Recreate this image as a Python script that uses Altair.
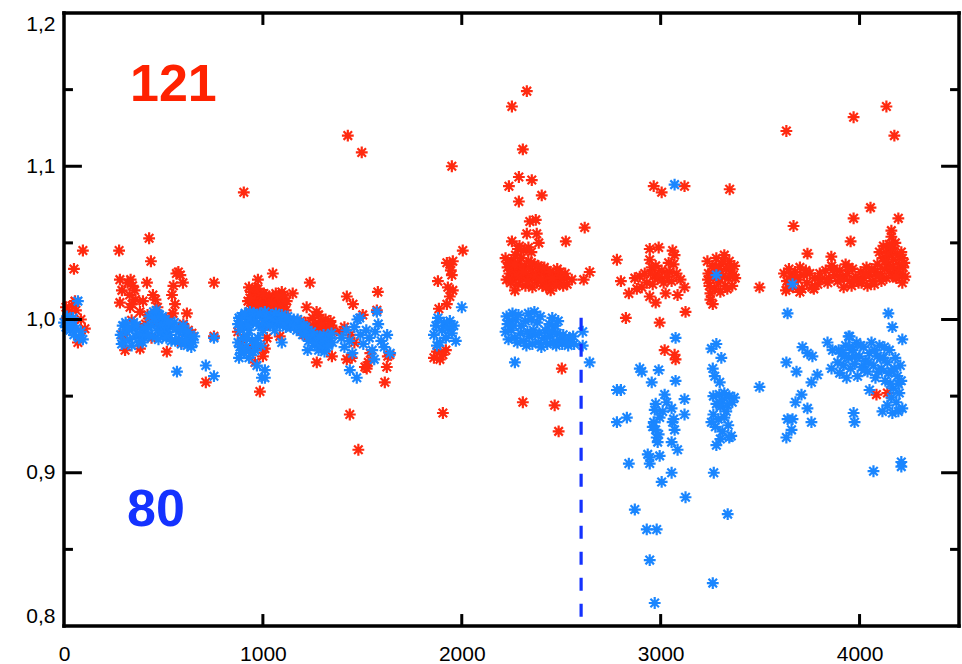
import altair as alt
import pandas as pd

# ---------------- data ----------------
red_seg_a = [(10,1.008),(25,1.005),(40,1.009),(30,1.002),(15,1.001),(50,1.033),(95,1.045),(55,1.012),
             (70,0.985),(105,0.994),(45,0.998),(85,1.0),(60,1.006)]
red_seg_b = [(277,1.045),(428,1.053),(437,1.038),(565,1.030),(575,1.031),(585,1.029),(598,1.024),(754,1.024),
             (281,1.026),(291,1.019),(281,1.011),(320,1.024),(335,1.026),(345,1.022),(355,1.019),(330,1.016),
             (360,1.013),(342,1.010),(417,1.024),(447,1.016),(460,1.013),(397,1.012),(332,1.008),(382,1.005),
             (420,1.003),(470,1.008),(543,1.016),(558,1.010),(550,1.022),(618,1.004),(643,0.991),(548,1.004),
             (530,1.001),(340,0.9995),(482,0.996),(382,0.995),(500,0.998),(455,1.0),(410,0.997),(600,0.997),
             (625,0.993),(307,0.980),(382,0.981),(517,0.979),(754,0.989),(713,0.959),(295,0.990),(440,0.988),
             (590,0.985)]
red_seg_c = [(904,1.083),(1427,1.120),(1497,1.109),(1050,1.030),(975,1.026),(1236,1.024),(930,1.021),(1150,1.017),
             (1220,1.008),(1422,1.015),(1453,1.010),(1578,1.018),(1502,1.003),(1573,1.006),(1422,0.974),(1513,0.969),
             (1623,0.969),(1613,0.959),(1628,0.976),(1437,0.938),(1480,0.915),(985,0.953),(960,0.972),(1000,0.976),
             (1010,0.981),(1020,0.988),(874,0.992),(1085,0.989),(1271,0.972),(1347,0.976),(1638,0.977),(1447,0.975),
             (1522,0.968),(1390,0.992),(1410,0.995),(1440,0.990),(1460,0.985),(1530,0.972),(1540,0.978),
             (925,1.012),(940,1.018),(955,1.015),(965,1.020),(980,1.016),(995,1.012),(945,1.009),(970,1.008),
             (990,1.005),(1010,1.010),(1030,1.013),(1050,1.015),(1070,1.011),(1090,1.014),(1110,1.010),(1040,1.007),
             (1060,1.006),(1080,1.008),(1100,1.006),(1120,1.012),(1015,1.016),(1065,1.017),(1095,1.018),(930,1.005),
             (960,1.012),(935,1.014),(950,1.005),(975,1.020),(985,1.010),(1005,1.017),(1020,1.008),(1045,1.011),
             (1075,1.015),(1105,1.016),(1115,1.006),
             (1175,0.995),(1200,0.992),(1215,0.998),(1235,0.995),(1250,1.001),(1265,0.997),(1280,1.003),
             (1290,0.999),(1300,0.994),(1315,1.000),(1325,0.996),(1340,0.999),(1350,0.993),(1230,0.990),(1260,0.991),
             (1285,0.992),(1310,0.989),(1335,0.990),(1190,0.999),(1270,1.005),(890,0.985),(935,0.980),(1010,0.996),
             (1195,0.993),(1210,0.990),(1245,0.994),(1275,0.994),(1295,0.996),(1320,0.993),(1345,0.996)]
red_seg_d = [(1950,1.100),(2005,1.045),(1925,1.037),(1940,1.036),(1955,1.038),(1880,1.025),(1950,1.029),(1930,1.021),
             (1955,1.019),(1925,1.010),(1885,1.007),(1860,0.975),(1875,0.979),(1890,0.974),(1905,0.977),(1920,0.980),
             (1905,0.939),(1945,1.032),(1940,1.015)]
red_seg_e = [(2327,1.149),(2252,1.139),(2307,1.111),(2287,1.093),(2352,1.091),(2237,1.087),(2402,1.081),(2287,1.077),
             (2342,1.064),(2372,1.065),(2327,1.056),(2377,1.056),(2252,1.051),(2387,1.050),(2282,1.046),(2523,1.051),
             (2618,1.060),(2643,1.031),(2613,1.026),(2553,1.026),(2447,1.019),(2267,1.019),(2503,0.968),(2307,0.946),
             (2467,0.944),(2487,0.927),
             (2220,1.040),(2230,1.034),(2240,1.030),(2225,1.026),(2250,1.038),(2260,1.032),(2255,1.026),(2270,1.042),
             (2280,1.036),(2275,1.029),(2285,1.023),(2295,1.033),(2300,1.040),(2305,1.027),(2315,1.035),(2320,1.022),
             (2325,1.030),(2335,1.038),(2340,1.026),(2345,1.033),(2355,1.021),(2360,1.029),(2365,1.036),(2375,1.024),
             (2380,1.031),(2390,1.027),(2395,1.034),(2405,1.022),(2410,1.030),(2420,1.025),(2430,1.032),(2440,1.027),
             (2450,1.023),(2460,1.030),(2470,1.026),(2480,1.033),(2490,1.024),(2500,1.029),(2515,1.027),(2530,1.023),
             (2310,1.045),(2350,1.044),(2290,1.048),(2335,1.047),
             (2235,1.037),(2245,1.024),(2265,1.036),(2290,1.029),(2310,1.031),(2330,1.025),(2350,1.037),(2370,1.028),
             (2385,1.035),(2400,1.026),(2415,1.034),(2425,1.021),(2445,1.031),(2455,1.027),(2475,1.022),(2495,1.031),
             (2510,1.022),(2520,1.030)]
red_seg_f = [(2965,1.087),(3005,1.083),(3120,1.087),(3347,1.085),(2780,1.039),(2800,1.025),(2840,1.017),(2870,1.027),
             (2895,1.028),(2905,1.021),(2945,1.046),(2990,1.047),(2945,1.039),(2955,1.034),(2970,1.029),(2985,1.027),
             (2960,1.023),(2945,1.015),(2975,1.011),(3025,1.017),(3045,1.031),(3070,1.042),(3065,1.036),(3080,1.030),
             (3055,1.025),(3085,1.016),(3120,1.021),(3005,1.032),(2930,1.024),(2995,1.028),(2825,1.001),(2995,0.998),
             (3125,1.005),(3020,0.980),(3070,0.977),(3075,0.974),(3497,1.021),(2950,1.030),(2975,1.035),(3015,1.024),
             (3040,1.037),(3060,1.045),(3030,1.028),(2920,1.030),(2880,1.020),(3100,1.026),
             (3235,1.038),(3240,1.030),(3245,1.022),(3250,1.017),(3260,1.035),(3265,1.027),(3270,1.020),(3280,1.040),
             (3285,1.032),(3290,1.024),(3300,1.018),(3305,1.036),(3310,1.028),(3320,1.042),(3325,1.022),(3330,1.033),
             (3340,1.027),(3345,1.038),(3355,1.030),(3360,1.022),(3370,1.035),(3375,1.027),(3250,1.013),(3262,1.010),
             (3238,1.026),(3255,1.030),(3275,1.034),(3295,1.030),(3315,1.038),(3335,1.020),(3350,1.034),(3365,1.029)]
red_seg_g = [(3632,1.123),(3970,1.132),(4135,1.139),(4175,1.120),(3668,1.061),(4055,1.073),(3970,1.066),(4195,1.066),
             (3955,1.051),(4160,1.058),(4160,1.054),(3738,1.043),(3858,1.041),(4215,1.024),(4085,0.951),(4140,0.952),
             (4165,1.047),(4150,1.043),
             (3620,1.030),(3635,1.025),(3645,1.033),(3655,1.028),(3665,1.021),(3675,1.031),(3690,1.026),(3700,1.034),
             (3710,1.020),(3720,1.029),(3735,1.024),(3750,1.030),(3760,1.021),(3775,1.027),(3790,1.023),(3805,1.026),
             (3630,1.019),(3700,1.018),
             (3830,1.032),(3845,1.027),(3860,1.035),(3875,1.029),(3890,1.025),(3900,1.032),(3915,1.028),(3930,1.036),
             (3940,1.030),(3950,1.025),(3965,1.033),(3980,1.028),(3995,1.024),(4005,1.031),(4020,1.027),(4035,1.034),
             (4050,1.029),(4065,1.025),(4080,1.031),(3920,1.021),(3960,1.022),(4040,1.022),
             (4090,1.036),(4100,1.044),(4105,1.030),(4115,1.040),(4120,1.048),(4125,1.033),(4135,1.027),(4140,1.043),
             (4145,1.036),(4155,1.030),(4160,1.046),(4170,1.039),(4175,1.033),(4185,1.027),(4190,1.042),(4200,1.036),
             (4205,1.030),(4215,1.040),(4220,1.034),(4230,1.028),(4110,1.025),(4180,1.050),
             (3640,1.021),(3685,1.028),(3730,1.032),(3770,1.020),(3800,1.030),(3840,1.024),(3870,1.033),(3905,1.026),
             (3945,1.034),(3975,1.026),(4010,1.024),(4030,1.030),(4060,1.033),(4075,1.023),(4095,1.028),(4130,1.038),
             (4150,1.049),(4165,1.034),(4195,1.031),(4210,1.044),(4225,1.037),(4180,1.028)]

blue_seg_a = [(0,0.998),(10,0.995),(20,1.0),(30,0.993),(40,0.996),(50,0.99),(60,0.994),(70,1.012),(75,0.988),
              (85,0.992),(95,0.987),(15,1.002),(45,1.001),(25,0.997)]
blue_seg_b = [(285,0.990),(300,0.985),(315,0.992),(330,0.987),(345,0.994),(360,0.989),(375,0.985),(390,0.992),
              (405,0.988),(420,0.995),(295,0.996),(350,0.998),(430,1.002),(440,0.996),(450,1.005),(460,0.999),
              (470,0.993),(480,1.003),(490,0.997),(500,0.990),(510,1.000),(520,0.994),(445,0.989),(475,0.987),
              (530,0.990),(545,0.995),(560,0.986),(575,0.992),(590,0.984),(605,0.990),(620,0.983),(635,0.988),
              (650,0.985),(555,0.998),(600,0.996),(568,0.966),(713,0.970),(754,0.963),(754,0.988),
              (290,0.984),(310,0.998),(325,0.994),(340,0.983),(365,0.996),(380,0.991),(395,0.985),(410,0.994),
              (425,0.990),(455,1.001),(465,1.006),(485,0.992),(495,1.002),(505,0.996),(515,0.988),(525,0.998),
              (540,0.986),(565,0.994),(580,0.987),(595,0.993),(610,0.986),(625,0.992),(640,0.982),(655,0.989)]
blue_seg_c = [(875,0.997),(890,1.002),(905,0.995),(920,1.000),(935,1.005),(950,0.998),(965,1.003),(980,0.996),
              (995,1.001),(1010,1.005),(1025,0.998),(1040,1.003),(1055,0.997),(1070,1.001),(1085,0.996),(1100,1.000),
              (1115,0.995),(1130,0.999),(885,0.993),(930,0.993),(1000,0.993),(1060,0.993),
              (880,1.001),(895,0.997),(910,1.004),(925,0.996),(940,1.001),(955,1.004),(970,0.998),(985,1.004),
              (1005,0.998),(1020,1.002),(1035,0.996),(1050,1.001),(1065,1.004),(1080,0.999),(1095,1.003),
              (1110,0.998),(1125,1.002),
              (875,0.985),(890,0.978),(900,0.988),(915,0.982),(930,0.975),(945,0.986),(960,0.980),(975,0.988),
              (990,0.983),(880,0.975),(885,0.982),(905,0.978),(920,0.988),(950,0.979),(965,0.985),
              (970,0.970),(995,0.962),(1010,0.962),(1095,0.985),(1010,0.967),
              (1140,0.995),(1155,1.000),(1170,0.993),(1185,0.998),(1200,0.990),(1215,0.995),(1230,0.986),(1245,0.992),
              (1260,0.983),(1275,0.989),(1290,0.984),(1305,0.990),(1320,0.982),(1335,0.988),(1350,0.985),(1225,0.980),
              (1280,0.980),(1310,0.979),(1145,0.998),(1160,0.996),(1175,1.000),(1190,0.994),(1205,0.996),
              (1220,0.991),(1240,0.988),(1255,0.990),(1270,0.985),(1285,0.988),(1300,0.983),(1315,0.986),
              (1330,0.983),(1345,0.991),
              (1395,0.988),(1410,0.982),(1420,0.993),(1435,0.986),(1450,0.978),(1460,0.995),(1475,1.000),(1487,1.001),
              (1490,0.990),(1505,0.984),(1520,0.993),(1535,0.988),(1550,0.980),(1565,0.992),(1573,1.005),(1580,0.997),
              (1595,0.986),(1610,0.982),(1625,0.990),(1640,0.978),(1437,0.967),(1472,0.962),(1560,0.974)]
blue_seg_d = [(2000,1.008),(1860,0.990),(1870,0.996),(1880,1.001),(1890,0.985),(1900,0.993),(1910,0.998),(1920,0.988),
              (1930,0.994),(1940,0.999),(1950,0.991),(1960,0.996),(1970,0.986),(1875,0.983)]
blue_seg_e = [(2225,1.002),(2240,0.999),(2255,1.004),(2270,1.000),(2285,1.003),(2320,0.999),(2335,1.004),(2350,1.000),
              (2365,1.005),(2380,0.998),(2395,1.002),(2440,0.997),(2455,1.001),(2470,0.996),(2485,0.999),
              (2220,0.992),(2235,0.987),(2250,0.993),(2265,0.988),(2280,0.985),(2295,0.991),(2310,0.986),(2325,0.983),
              (2340,0.989),(2355,0.984),(2370,0.990),(2385,0.985),(2400,0.982),(2415,0.988),(2430,0.984),(2445,0.989),
              (2460,0.985),(2475,0.983),(2490,0.987),(2505,0.984),(2520,0.986),(2535,0.983),(2550,0.985),(2565,0.984),
              (2230,0.997),(2260,0.996),(2300,0.996),(2330,0.992),(2360,0.993),(2390,0.991),(2420,0.993),(2450,0.992),
              (2480,0.991),(2510,0.990),(2540,0.988),(2560,0.989),
              (2267,0.972),(2608,0.992),(2608,0.983),(2643,0.972)]
blue_seg_f = [(3070,1.088),(2780,0.954),(2780,0.933),(3075,0.988),(2895,0.968),(2905,0.966),(2990,0.967),(2955,0.959),
              (3075,0.960),(2800,0.954),(2830,0.936),(2970,0.941),(3020,0.951),(3030,0.946),(3120,0.948),(3055,0.942),
              (3120,0.938),(2965,0.933),(2975,0.928),(2980,0.923),(2985,0.920),(2995,0.936),(3060,0.933),(3070,0.928),
              (3055,0.920),(3085,0.915),(2945,0.910),(2995,0.911),(2945,0.906),(2840,0.906),(3055,0.900),(3005,0.894),
              (3125,0.884),(2870,0.876),(2930,0.863),(2980,0.863),(2945,0.843),(2970,0.815),(3262,0.828),(3337,0.873),
              (3267,0.900),(3255,0.981),(3280,0.984),(3305,0.975),(3262,0.968),(3272,0.963),(3297,0.959),
              (3265,0.950),(3280,0.945),(3295,0.951),(3310,0.947),(3320,0.952),(3335,0.944),(3345,0.950),(3360,0.946),
              (3370,0.949),(3300,0.943),(3330,0.940),(3265,0.938),(3275,0.930),(3290,0.935),(3310,0.927),(3320,0.936),
              (3340,0.931),(3355,0.924),(3255,0.933),(3280,0.918),(3345,0.923),(3300,0.922),(3497,0.956),(3280,1.029),
              (2990,0.925),(2960,0.930),(3065,0.935),(2935,0.912),(3010,0.940),(2975,0.945)]
blue_seg_g = [(3663,1.023),(3638,1.004),(4145,1.004),(4165,0.995),(3632,0.972),(3683,0.966),(3713,0.982),(3738,0.978),
              (3763,0.976),(3788,0.964),(3758,0.959),(3708,0.951),(3678,0.946),(3738,0.942),(3758,0.933),(3638,0.935),
              (3663,0.935),(3658,0.928),(3632,0.923),(3839,0.985),(3864,0.980),(3859,0.968),(3950,0.989),(3970,0.939),
              (3975,0.933),(4050,0.954),(4115,0.940),(4165,0.939),(4215,0.942),(4215,0.987),(4070,0.901),(4210,0.907),
              (4210,0.904),(3945,0.989),
              (3890,0.972),(3900,0.965),(3910,0.978),(3920,0.970),(3930,0.983),(3935,0.962),(3945,0.975),(3955,0.968),
              (3965,0.980),(3975,0.971),(3985,0.985),(3990,0.963),(4000,0.976),(4010,0.969),(4020,0.982),(4030,0.973),
              (4040,0.966),(4050,0.978),(4060,0.985),(4070,0.970),(4080,0.962),(4090,0.976),(4100,0.983),(4110,0.968),
              (4120,0.975),(4130,0.960),(4140,0.972),(4150,0.980),(4160,0.966),(4170,0.955),(4180,0.975),(4190,0.963),
              (4200,0.952),(4205,0.970),(4185,0.946),(4160,0.949),(4140,0.944),(4195,0.940),
              (3895,0.980),(3925,0.976),(3950,0.982),(3980,0.976),(4005,0.983),(4025,0.967),(4045,0.972),(4075,0.980),
              (4095,0.966),(4105,0.975),(4125,0.982),(4145,0.965),(4175,0.968),(4195,0.958),(4210,0.960),(4155,0.958)]

# dashed marker line, annotations, ticks
dash_x = [2600]
dash_y = [0.806, 1.002]
label_texts = ["121", "80"]
label_x = [332, 317]
label_y = [1.1426, 0.8654]
label_colors = ["#ff2200", "#1432ff"]
x_tick_values = [0, 1000, 2000, 3000, 4000]
x_major_ticks = [1000, 2000, 3000, 4000]
y_tick_values = [0.8, 0.9, 1.0, 1.1, 1.2]
y_major_ticks = [0.9, 1.0, 1.1]
y_minor_ticks = [0.85, 0.95, 1.05, 1.15]
X0, X1, Y0, Y1 = 0, 4500, 0.8, 1.2

# ---------------- tables ----------------
red_pts = red_seg_a + red_seg_b + red_seg_c + red_seg_d + red_seg_e + red_seg_f + red_seg_g
blue_pts = blue_seg_a + blue_seg_b + blue_seg_c + blue_seg_d + blue_seg_e + blue_seg_f + blue_seg_g
red_df = pd.DataFrame(red_pts, columns=["x", "y"])
blue_df = pd.DataFrame(blue_pts, columns=["x", "y"])

W, H = 895, 613
xlen_major = 0.0078  # y-units for x ticks (about 12 px)
ylen_major = 90      # x-units (about 18 px)
ylen_minor = 45

tick_rows = []
for v in x_major_ticks:
    tick_rows.append(dict(x=v, x2=v, y=Y0, y2=Y0 + xlen_major))
    tick_rows.append(dict(x=v, x2=v, y=Y1, y2=Y1 - xlen_major))
for v in y_major_ticks:
    tick_rows.append(dict(x=X0, x2=X0 + ylen_major, y=v, y2=v))
    tick_rows.append(dict(x=X1, x2=X1 - ylen_major, y=v, y2=v))
for v in y_minor_ticks:
    tick_rows.append(dict(x=X0, x2=X0 + ylen_minor, y=v, y2=v))
    tick_rows.append(dict(x=X1, x2=X1 - ylen_minor, y=v, y2=v))
ticks_df = pd.DataFrame(tick_rows)

frame_df = pd.DataFrame({"x": [X0, X1, X0, X0], "x2": [X1, X1, X1, X0],
                         "y": [Y0, Y0, Y1, Y0], "y2": [Y0, Y1, Y1, Y1]})

dash_df = pd.DataFrame({"x": [dash_x[0]], "y": [dash_y[0]], "y2": [dash_y[1]]})
text_df = pd.DataFrame({"t": label_texts, "x": label_x, "y": label_y, "c": label_colors})

ASTERISK = "M-1,0L1,0M0,-1L0,1M-0.72,-0.72L0.72,0.72M-0.72,0.72L0.72,-0.72"

xs = alt.Scale(domain=[X0, X1], nice=False, zero=False)
ys = alt.Scale(domain=[Y0, Y1], nice=False, zero=False)
x_axis = alt.Axis(values=x_tick_values, format="d", title=None, grid=False, domain=False, ticks=False,
                  tickSize=0, labelPadding=17, labelFontSize=21, labelFont="Liberation Sans",
                  labelColor="black", labelFlush=False)
y_axis = alt.Axis(values=y_tick_values, title=None, grid=False, domain=False, ticks=False, tickSize=0,
                  labelPadding=9, labelFontSize=21, labelFont="Liberation Sans", labelColor="black",
                  labelFlush=True,
                  labelExpr="replace(format(datum.value, '.1f'), '.', ',')")

base_x = alt.X("x:Q", scale=xs, axis=x_axis)
base_y = alt.Y("y:Q", scale=ys, axis=y_axis)

red_layer = alt.Chart(red_df).mark_point(shape=ASTERISK, filled=False, size=140, strokeWidth=2.2,
                                         color="#ff2a10", opacity=1).encode(x=base_x, y=base_y)
blue_layer = alt.Chart(blue_df).mark_point(shape=ASTERISK, filled=False, size=140, strokeWidth=2.2,
                                           color="#1a86ff", opacity=1).encode(x="x:Q", y="y:Q")

dash_layer = alt.Chart(dash_df).mark_rule(color="#1432ff", strokeWidth=3.2, strokeDash=[13, 13]).encode(
    x="x:Q", y="y:Q", y2="y2:Q")

tick_layer = alt.Chart(ticks_df).mark_rule(color="black", strokeWidth=3).encode(
    x="x:Q", x2="x2:Q", y="y:Q", y2="y2:Q")

frame_layer = alt.Chart(frame_df).mark_rule(color="black", strokeWidth=3.5, strokeCap="square").encode(
    x="x:Q", x2="x2:Q", y="y:Q", y2="y2:Q")

text_layer = alt.Chart(text_df).mark_text(align="left", baseline="alphabetic", fontSize=52,
                                          fontWeight="bold", font="Liberation Sans").encode(
    x="x:Q", y="y:Q", text="t:N", color=alt.Color("c:N", scale=None))

chart = alt.layer(red_layer, blue_layer, dash_layer, tick_layer, frame_layer, text_layer).properties(
    width=W, height=H,
    background="white",
    autosize=alt.AutoSizeParams(type="none"),
    padding={"left": 64, "top": 13, "right": 3, "bottom": 38},
).configure_view(stroke=None)

chart.save("out.html", embed_options={"renderer": "svg", "actions": False})
